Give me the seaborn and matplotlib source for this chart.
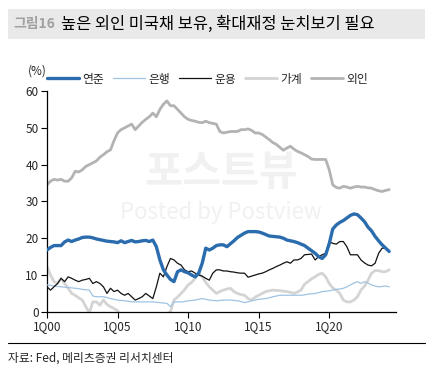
import matplotlib
matplotlib.use('Agg')
import matplotlib.pyplot as plt
import pandas as pd
import seaborn as sns
from matplotlib.patches import Rectangle
from matplotlib.lines import Line2D

# quarterly shares of US Treasury holdings (%), 1Q00 ~ 2Q24
fed = [16.8, 17.5, 18.0, 18.0, 18.0, 19.0, 19.5, 19.1, 19.5, 19.8, 20.2, 20.3,
       20.3, 20.1, 19.8, 19.6, 19.4, 19.2, 19.1, 19.0, 18.8, 19.3, 18.8, 19.1,
       19.4, 19.0, 19.1, 19.3, 19.4, 19.1, 19.5, 17.7, 14.1, 11.4, 10.0, 8.8,
       8.2, 10.9, 11.4, 10.9, 10.6, 10.0, 9.5, 10.5, 13.2, 17.3, 16.8, 17.3,
       18.0, 18.2, 18.2, 17.7, 18.5, 19.3, 20.2, 20.8, 21.4, 21.8, 21.8, 21.8,
       21.7, 21.4, 21.0, 20.6, 20.5, 20.4, 20.3, 20.0, 19.5, 19.3, 19.1, 18.8,
       18.4, 18.0, 17.3, 16.6, 15.9, 15.0, 14.5, 15.5, 18.5, 22.5, 23.6, 24.3,
       24.8, 25.5, 26.2, 26.6, 26.4, 25.5, 24.5, 23.0, 22.0, 20.5, 19.3, 18.2,
       17.3, 16.4]
banks = [7.3, 7.2, 7.0, 6.9, 6.8, 6.7, 6.6, 6.5, 6.4, 6.3, 6.1, 6.0,
         5.9, 4.3, 4.1, 4.1, 4.1, 3.9, 3.6, 3.4, 3.2, 3.1, 3.0, 2.9,
         2.7, 2.7, 2.7, 2.7, 2.7, 2.7, 2.7, 2.6, 2.5, 2.4, 2.3, 1.4,
         2.7, 2.7, 2.7, 2.8, 3.0, 3.1, 3.2, 3.4, 3.6, 3.4, 3.2, 3.1,
         3.0, 3.1, 3.2, 3.2, 3.2, 3.1, 3.0, 2.8, 2.5, 2.7, 3.0, 3.2,
         3.4, 3.5, 3.6, 3.8, 4.1, 4.3, 4.5, 4.5, 4.5, 4.5, 4.5, 4.5,
         4.5, 4.6, 4.8, 4.9, 5.0, 5.2, 5.5, 5.6, 5.7, 5.9, 6.1, 6.2,
         6.4, 6.8, 7.3, 7.8, 8.2, 7.7, 8.2, 7.8, 7.3, 7.0, 6.8, 6.9,
         7.0, 6.8]
funds = [6.8, 5.9, 6.8, 7.7, 9.1, 8.2, 9.5, 9.1, 8.6, 8.2, 8.6, 8.8,
         9.1, 7.7, 8.2, 7.7, 6.8, 5.0, 6.4, 5.5, 5.9, 5.0, 4.5, 5.0,
         4.1, 3.2, 3.6, 4.1, 5.0, 4.3, 3.6, 6.8, 10.5, 9.5, 12.3, 14.5,
         14.1, 13.2, 12.7, 11.4, 10.9, 11.1, 10.5, 10.0, 9.7, 9.1, 8.6, 10.5,
         11.4, 11.4, 11.1, 11.1, 10.9, 10.8, 10.6, 10.5, 10.5, 9.4, 9.7, 10.0,
         10.3, 10.5, 10.9, 11.4, 11.8, 12.3, 12.7, 13.2, 13.6, 13.2, 14.1, 14.1,
         14.5, 15.5, 15.6, 15.7, 14.1, 15.0, 15.5, 15.9, 19.1, 18.6, 18.4, 19.1,
         19.1, 17.7, 15.5, 15.5, 15.5, 14.1, 13.3, 12.7, 12.5, 13.2, 15.9, 17.3,
         17.3, 16.6]
households = [12.3, 10.0, 8.2, 7.7, 9.1, 7.7, 6.4, 5.0, 4.5, 3.8, 3.2, 1.4,
              -0.3, 2.7, 2.7, 1.8, 3.2, 2.0, 1.4, 0.9, 0.3, -1.0, -2.0, -2.5,
              -3.0, -3.0, -3.0, -3.0, -3.0, -3.0, -2.5, -2.5, -2.0, -1.5, -0.5, 0.0,
              3.2, 4.0, 5.0, 6.0, 7.3, 8.0, 9.1, 10.5, 9.5, 8.0, 6.8, 5.9,
              5.0, 5.5, 5.9, 6.2, 6.4, 5.5, 5.0, 4.7, 4.5, 3.6, 3.2, 4.0,
              4.5, 5.0, 5.5, 5.7, 5.9, 5.8, 5.8, 5.6, 5.5, 5.3, 5.0, 5.4,
              5.9, 7.5, 8.2, 9.0, 9.5, 10.2, 10.5, 9.5, 7.7, 6.5, 5.9, 5.0,
              3.2, 2.7, 2.7, 3.2, 4.1, 5.9, 7.0, 8.6, 10.5, 11.2, 11.2, 10.9,
              10.9, 11.4]
foreign = [34.5, 35.5, 36.0, 35.8, 36.0, 35.5, 35.5, 36.4, 38.2, 38.0, 38.6, 39.5,
           40.0, 40.5, 41.0, 42.0, 42.7, 43.5, 44.0, 46.5, 48.6, 49.5, 50.0, 50.5,
           51.0, 49.5, 50.5, 51.5, 52.3, 53.0, 54.0, 53.0, 55.0, 56.4, 57.3, 56.0,
           56.0, 55.0, 54.0, 53.0, 52.3, 52.0, 51.8, 51.5, 51.4, 51.8, 51.4, 51.2,
           51.0, 49.0, 48.6, 48.8, 49.0, 49.0, 49.0, 49.5, 49.5, 49.7, 49.3, 48.6,
           48.6, 48.2, 47.5, 46.8, 46.0, 45.5, 44.7, 43.9, 44.5, 45.0, 44.2, 43.6,
           43.2, 42.7, 42.2, 41.5, 41.4, 41.4, 41.4, 41.4, 38.6, 34.5, 33.8, 33.6,
           34.1, 33.9, 33.6, 33.9, 34.1, 33.9, 33.9, 33.7, 33.6, 33.2, 32.9, 32.7,
           33.0, 33.2]

tick_years = [2000, 2005, 2010, 2015, 2020]
tick_labels = ['1Q00', '1Q05', '1Q10', '1Q15', '1Q20']

quarters = pd.period_range('2000Q1', periods=len(fed), freq='Q')
df = pd.DataFrame({'t': quarters.year + (quarters.quarter - 1) / 4,
                   '연준': fed, '은행': banks, '운용': funds,
                   '가계': households, '외인': foreign})

sns.set_style('white')
plt.rcParams['font.family'] = ['Noto Sans CJK KR', 'DejaVu Sans']
plt.rcParams['axes.unicode_minus'] = False

fig = plt.figure(figsize=(4.33, 3.73), dpi=100)
fig.patch.set_facecolor('white')
ax = fig.add_axes([0.1085, 0.164, 0.805, 0.592])

# series styles: (column, color, width, z)
styles = [('외인', '#b3b3b3', 2.0, 2),
          ('가계', '#d4d4d4', 2.0, 2),
          ('은행', '#9fc3e3', 0.9, 3),
          ('운용', '#111111', 0.9, 4),
          ('연준', '#2a6cad', 2.4, 5)]
for col, c, lw, z in styles:
    sns.lineplot(x='t', y=col, data=df, ax=ax, color=c, linewidth=lw, zorder=z)

ax.set_xlim(2000, 2024.7)
ax.set_ylim(0, 60)
ax.set_xticks(tick_years)
ax.set_xticklabels(tick_labels)
ax.set_yticks(range(0, 61, 10))
ax.set_xlabel('')
ax.set_ylabel('')
sns.despine(ax=ax)
for s in ['left', 'bottom']:
    ax.spines[s].set_color('black')
    ax.spines[s].set_linewidth(0.9)
ax.tick_params(axis='both', labelsize=8.5, length=4, width=0.8, color='black',
               direction='out', pad=2, left=True, bottom=True)

# faint watermark
ax.text(0.5, 0.63, '포스트뷰', transform=ax.transAxes, ha='center', va='center',
        fontsize=30, fontweight='bold', color='#f1f1f1', zorder=0)
ax.text(0.5, 0.45, 'Posted by Postview', transform=ax.transAxes, ha='center',
        va='center', fontsize=16, color='#f1f1f1', zorder=0)

# legend
order = ['연준', '은행', '운용', '가계', '외인']
sty = {s[0]: s for s in styles}
handles = [Line2D([], [], color=sty[k][1], linewidth=sty[k][2]) for k in order]
fig.legend(handles, order, loc='center left', bbox_to_anchor=(0.108, 0.788),
           ncol=5, frameon=False, fontsize=8.5, handlelength=2.7,
           handletextpad=0.3, columnspacing=0.75, borderpad=0, borderaxespad=0)
fig.text(37 / 433, 1 - 71 / 373, '(%)', ha='center', va='center', fontsize=8.5)

# title bar
fig.patches.append(Rectangle((8 / 433, 1 - 39 / 373), 417 / 433, 30 / 373,
                             transform=fig.transFigure, facecolor='#e9e9e9',
                             edgecolor='none', zorder=0))
fig.text(13 / 433, 1 - 24 / 373, '그림16', ha='left', va='center', fontsize=10,
         fontweight='bold', color='#a0a0a0')
fig.text(61 / 433, 1 - 24 / 373, '높은 외인 미국채 보유, 확대재정 눈치보기 필요',
         ha='left', va='center', fontsize=11.8, color='black')

# source line
fig.add_artist(Line2D([8 / 433, 425 / 433], [1 - 343 / 373, 1 - 343 / 373],
                      transform=fig.transFigure, color='black', linewidth=0.8))
fig.text(8 / 433, 1 - 358 / 373, '자료: Fed, 메리츠증권 리서치센터', ha='left',
         va='center', fontsize=8.5)

fig.savefig('out.png', dpi=100)
